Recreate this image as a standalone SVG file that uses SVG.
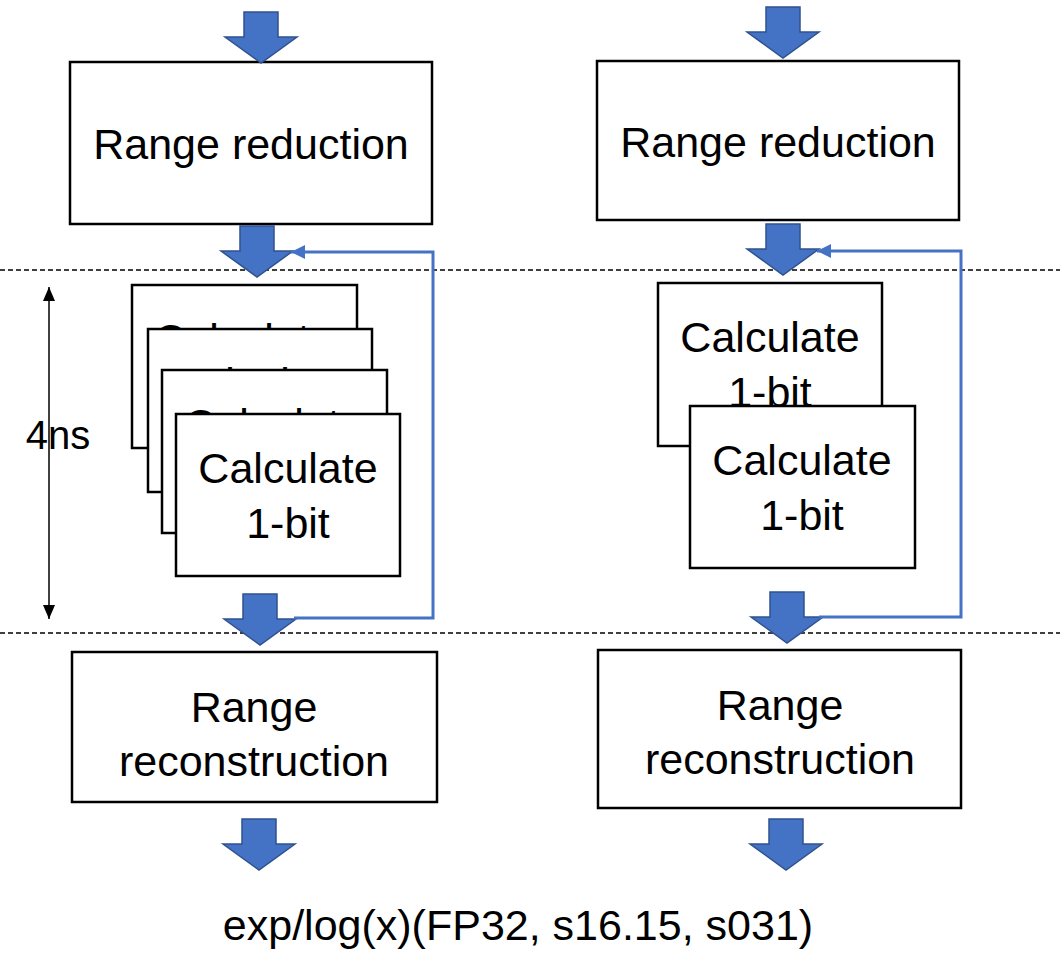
<svg xmlns="http://www.w3.org/2000/svg" width="1060" height="953" viewBox="0 0 1060 953">
<style>
.box{fill:#fff;stroke:#000;stroke-width:2.5}
.t{font-family:"Liberation Sans",Arial,sans-serif;font-size:43px;fill:#000;text-anchor:middle}
.fb{fill:none;stroke:#4472C4;stroke-width:3}
.dash{stroke:#000;stroke-width:1.5;stroke-dasharray:5 3}
</style>
<defs>
<path id="blk" d="M-17,-51 H17 V-26 H36 L0,0 L-36,-26 H-17 Z" fill="#4472C4" stroke="#2F528F" stroke-width="1.5"/>
<marker id="fbh" markerUnits="userSpaceOnUse" markerWidth="16" markerHeight="14" refX="14" refY="7" orient="auto"><path d="M0,0 L14,7 L0,14 Z" fill="#4472C4"/></marker>
<marker id="bh" markerUnits="userSpaceOnUse" markerWidth="14" markerHeight="14" refX="14" refY="7" orient="auto"><path d="M0,1 L14,7 L0,13 Z" fill="#000"/></marker>
</defs>
<g id="dashes">
<line class="dash" x1="0" y1="270" x2="1060" y2="270"/>
<line class="dash" x1="0" y1="633" x2="1060" y2="633"/>
</g>
<g id="left-reduction"><rect class="box" x="70" y="62" width="362" height="162"/><text class="t" x="251" y="159">Range reduction</text></g>
<g id="left-calc1"><rect class="box" x="132" y="285" width="225" height="163"/><text class="t" x="244" y="354">Calculate</text><text class="t" x="244" y="409">1-bit</text></g>
<g id="left-calc2"><rect class="box" x="148" y="329" width="224" height="163"/><text class="t" x="260" y="398">Calculate</text><text class="t" x="260" y="453">1-bit</text></g>
<g id="left-calc3"><rect class="box" x="162" y="370" width="225" height="163"/><text class="t" x="274" y="439">Calculate</text><text class="t" x="274" y="494">1-bit</text></g>
<g id="left-calc4"><rect class="box" x="176" y="414" width="224" height="162"/><text class="t" x="288" y="483">Calculate</text><text class="t" x="288" y="538">1-bit</text></g>
<g id="left-reconstruction"><rect class="box" x="72" y="652" width="365" height="150"/><text class="t" x="254" y="722">Range</text><text class="t" x="254" y="776">reconstruction</text></g>
<g id="right-reduction"><rect class="box" x="597" y="61" width="362" height="159"/><text class="t" x="778" y="157">Range reduction</text></g>
<g id="right-calc1"><rect class="box" x="658" y="283" width="224" height="163"/><text class="t" x="770" y="352">Calculate</text><text class="t" x="770" y="407">1-bit</text></g>
<g id="right-calc2"><rect class="box" x="690" y="406" width="225" height="162"/><text class="t" x="802" y="475">Calculate</text><text class="t" x="802" y="530">1-bit</text></g>
<g id="right-reconstruction"><rect class="box" x="598" y="650" width="363" height="158"/><text class="t" x="780" y="720">Range</text><text class="t" x="780" y="774">reconstruction</text></g>
<g id="connectors">
<use href="#blk" x="261" y="63"/>
<use href="#blk" x="257" y="277"/>
<use href="#blk" x="260" y="645"/>
<use href="#blk" x="259" y="870"/>
<use href="#blk" x="783" y="58"/>
<use href="#blk" x="783" y="275"/>
<use href="#blk" x="787" y="643"/>
<use href="#blk" x="786" y="870"/>
<path class="fb" d="M294,618 H433 V252 H291" marker-end="url(#fbh)"/>
<path class="fb" d="M819,617 H961 V251 H817" marker-end="url(#fbh)"/>
<line x1="49" y1="300" x2="49" y2="606" stroke="#000" stroke-width="1.5"/>
<line x1="49" y1="300" x2="49" y2="287" stroke="#000" stroke-width="1.5" marker-end="url(#bh)"/>
<line x1="49" y1="606" x2="49" y2="619" stroke="#000" stroke-width="1.5" marker-end="url(#bh)"/>
</g>
<g id="labels">
<text class="t" x="58" y="449" style="font-size:40px">4ns</text>
<text class="t" x="518" y="940">exp/log(x)(FP32, s16.15, s031)</text>
</g>
</svg>
